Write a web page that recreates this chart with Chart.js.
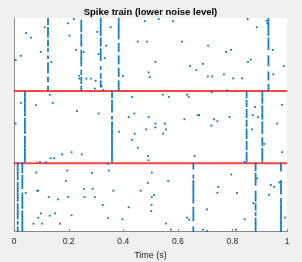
<!DOCTYPE html>
<html>
<head>
<meta charset="utf-8">
<script src="https://cdn.jsdelivr.net/npm/chart.js@4.4.1/dist/chart.umd.min.js"></script>
<style>
  html, body { margin: 0; background: #f0f0f0; }
</style>
</head>
<body>
<canvas id="chart" width="302" height="262"></canvas>
<script>
// trials 0..120 from top to bottom, three neurons of ~40 trials each
const separators = [41, 81.5];
const xTickLabels = ['0', '0.2', '0.4', '0.6', '0.8', '1'];

// locked spikes: time of the column, first trial, and which trials fire ('#')
const colTime  = [0.1245, 0.2465, 0.3176, 0.3835, 0.932, 0.040, 0.359, 0.852, 0.9096, 0.0135, 0.0305, 0.657, 0.885, 0.978];
const colStart = [0, 0, 0, 0, 0, 41, 41, 41, 41, 81, 81, 81, 81, 81];
const colPattern = [
  '####.######.####.##..##..######..###..###',
  '.#######.#######..#########..###.####.###',
  '##########.#####.#######...##..###.####..',
  '############..#####..#####..#####..######',
  '##########.#######...######...#####..####',
  '##############.#########.###############',
  '####.#######..##.#######################',
  '####.####.#####.####.######.#####.######',
  '#######.########.#######..#####.########',
  '##########.###########.#########.##.###',
  '######.########..#########.############',
  '####...##.#############..########...###',
  '#####.#######...######.####.##.########',
  '#####.....########..###################'
];

// background (noise) spikes
const noiseTime = [
  0.006, 0.025, 0.044, 0.062, 0.098, 0.112, 0.137, 0.197, 0.203, 0.219, 0.228, 0.239, 0.239, 0.255, 0.265, 0.281,
  0.299, 0.296, 0.305, 0.310, 0.332, 0.338, 0.354, 0.321, 0.327, 0.399, 0.453, 0.479, 0.487, 0.493, 0.497, 0.518,
  0.530, 0.582, 0.615, 0.645, 0.668, 0.692, 0.711, 0.710, 0.726, 0.769, 0.777, 0.795, 0.803, 0.836, 0.856, 0.857,
  0.867, 0.889, 0.948, 0.950, 0.988, 0.780, 0.925, 0.928,
  0.006, 0.025, 0.080, 0.131, 0.142, 0.134, 0.147, 0.176, 0.211, 0.231, 0.248, 0.310, 0.385, 0.420, 0.433, 0.441,
  0.442, 0.433, 0.454, 0.484, 0.493, 0.491, 0.493, 0.518, 0.518, 0.545, 0.553, 0.556, 0.546, 0.568, 0.624, 0.634,
  0.640, 0.662, 0.673, 0.678, 0.724, 0.723, 0.733, 0.745, 0.789, 0.883, 0.875, 0.894, 0.872, 0.917, 0.964, 0.982,
  0.982, 0.095, 0.118, 0.345, 0.844,
  0.082, 0.195, 0.285, 0.347, 0.505, 0.796, 0.190, 0.490, 0.565, 0.941, 0.953, 0.748, 0.043, 0.085, 0.089, 0.256,
  0.288, 0.364, 0.464, 0.513, 0.745, 0.817, 0.934, 0.127, 0.161, 0.199, 0.258, 0.296, 0.505, 0.325, 0.420, 0.504,
  0.503, 0.707, 0.877, 0.099, 0.089, 0.131, 0.151, 0.211, 0.345, 0.397, 0.071, 0.103, 0.168, 0.557, 0.634, 0.642,
  0.845, 0.993, 0.575, 0.692, 0.707, 0.813, 0.891, 0.972
];
const noiseTrial = [
  23.6, 21.2, 8.5, 11.0, 19.0, 5.2, 24.7, 3.0, 9.9, 0.6, 17.9, 34.0, 32.4, 19.1, 34.0, 34.0,
  35.2, 39.6, 7.8, 20.3, 22.5, 15.5, 5.2, 38.3, 40.4, 32.5, 13.2, 1.8, 13.2, 30.5, 33.1, 24.6,
  0.6, 1.8, 13.2, 27.0, 29.2, 25.7, 15.5, 32.8, 32.8, 31.6, 19.0, 17.9, 33.9, 33.9, 0.6, 24.6,
  23.4, 5.2, 17.9, 31.6, 27.0, 40.6, 1.5, 3.0,
  59.2, 47.6, 48.9, 43.1, 47.6, 78.7, 78.7, 76.5, 75.3, 52.3, 76.5, 53.6, 63.8, 55.6, 44.3, 53.6,
  64.9, 68.3, 72.7, 62.5, 55.6, 77.4, 79.8, 59.2, 61.4, 43.0, 59.2, 62.5, 64.9, 44.3, 56.8, 43.0,
  44.3, 77.4, 54.5, 54.5, 41.7, 60.3, 56.8, 57.9, 55.6, 49.8, 54.5, 55.6, 62.5, 70.7, 59.2, 48.7,
  75.2, 80.9, 80.9, 81.7, 80.9,
  86.7, 85.6, 86.9, 85.6, 86.7, 87.8, 91.4, 92.5, 91.4, 93.6, 94.7, 94.7, 98.1, 96.9, 96.9, 95.8,
  95.8, 96.9, 96.9, 99.2, 98.1, 98.1, 99.2, 100.5, 101.7, 100.5, 100.5, 100.5, 100.5, 104.9, 106.2, 104.9,
  108.3, 107.3, 103.8, 109.6, 112.0, 110.9, 109.6, 110.7, 112.2, 112.9, 115.4, 115.4, 115.4, 115.4, 112.0, 113.1,
  112.9, 112.0, 118.7, 118.7, 119.6, 118.7, 90.0, 92.3
];

const spikes = [];
colPattern.forEach((p, c) => {
  for (let i = 0; i < p.length; i++) {
    if (p[i] === '#') spikes.push({ x: colTime[c], y: colStart[c] + i + 0.5 });
  }
});
noiseTime.forEach((t, i) => spikes.push({ x: t, y: noiseTrial[i] }));

const font = '"Liberation Sans", Arial, sans-serif';

const whiteArea = {
  id: 'whiteArea',
  beforeDraw(chart) {
    const { ctx, chartArea: a } = chart;
    ctx.save();
    ctx.fillStyle = '#ffffff';
    ctx.fillRect(a.left, a.top, a.right - a.left, a.bottom - a.top);
    ctx.restore();
  }
};

// matlab style ticks pointing into the axes
const innerTicks = {
  id: 'innerTicks',
  afterDraw(chart) {
    const { ctx, scales: { x } } = chart;
    ctx.save();
    ctx.strokeStyle = '#8a8a8a';
    ctx.lineWidth = 1;
    x.ticks.forEach(t => {
      const px = Math.round(x.getPixelForValue(t.value)) + 0.5;
      ctx.beginPath();
      ctx.moveTo(px, x.top);
      ctx.lineTo(px, x.top - 2.7);
      ctx.stroke();
    });
    ctx.restore();
  }
};

new Chart(document.getElementById('chart'), {
  type: 'scatter',
  data: {
    datasets: [
      {
        data: spikes,
        pointStyle: 'rect',
        pointRadius: 1.25,
        pointBackgroundColor: '#0072BD',
        pointBorderWidth: 0
      },
      ...separators.map(s => ({
        data: [{ x: 0, y: s }, { x: 1, y: s }],
        showLine: true,
        borderColor: 'rgba(255, 20, 20, 0.8)',
        borderWidth: 2,
        pointRadius: 0
      }))
    ]
  },
  options: {
    responsive: false,
    animation: false,
    layout: { padding: { left: 14, right: 15, top: 0, bottom: 0.6 } },
    plugins: {
      legend: { display: false },
      tooltip: { enabled: false },
      title: {
        display: true,
        text: 'Spike train (lower noise level)',
        color: '#000000',
        font: { family: font, size: 9.5, weight: 'bold' },
        padding: { top: 6.6, bottom: 0 }
      }
    },
    scales: {
      x: {
        type: 'linear',
        min: 0,
        max: 1,
        ticks: {
          stepSize: 0.2,
          autoSkip: false,
          maxRotation: 0,
          padding: 5,
          color: '#262626',
          font: { family: font, size: 8.5 },
          callback: (v, i) => xTickLabels[i]
        },
        grid: { display: false, drawTicks: false },
        border: { display: true, color: '#8a8a8a' },
        title: {
          display: true,
          text: 'Time (s)',
          color: '#262626',
          font: { family: font, size: 9 },
          padding: { top: -1.5, bottom: 0 }
        }
      },
      y: {
        type: 'linear',
        reverse: true,
        min: 0,
        max: 120,
        ticks: { display: false },
        grid: { display: false, drawTicks: false },
        border: { display: true, color: '#8a8a8a' }
      }
    }
  },
  plugins: [whiteArea, innerTicks]
});
</script>
</body>
</html>
